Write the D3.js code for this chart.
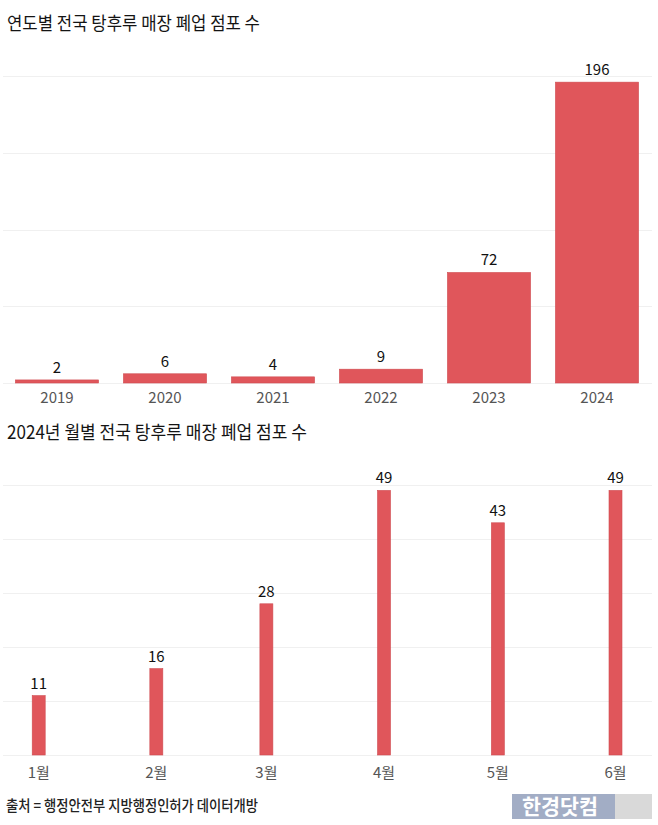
<!DOCTYPE html>
<html>
<head>
<meta charset="utf-8">
<script src="https://cdn.jsdelivr.net/npm/d3@7"></script>
<style>
  body { margin: 0; background: #fff; }
  text { font-family: "Noto Sans CJK KR", "Noto Sans", sans-serif; }
</style>
</head>
<body>
<svg id="chart" width="658" height="825"></svg>
<script>
// yearly closures
const years = ["2019", "2020", "2021", "2022", "2023", "2024"];
const yearCounts = [2, 6, 4, 9, 72, 196];
const yearTicks = [0, 50, 100, 150, 200];

// monthly closures, 2024
const months = ["1월", "2월", "3월", "4월", "5월", "6월"];
const monthDates = ["2024-01-01", "2024-02-01", "2024-03-01", "2024-04-01", "2024-05-01", "2024-06-01"];
const monthCounts = [11, 16, 28, 49, 43, 49];
const monthTicks = [0, 10, 20, 30, 40, 50];

const title1 = "연도별 전국 탕후루 매장 폐업 점포 수";
const title2 = "2024년 월별 전국 탕후루 매장 폐업 점포 수";
const source = "출처 = 행정안전부 지방행정인허가 데이터개방";

const barColor = "#e0565b";
const gridColor = "#f0f0f0";

const svg = d3.select("#chart");
svg.append("rect").attr("width", 658).attr("height", 825).attr("fill", "#fff");

function drawGrid(g, y, ticks) {
  g.selectAll("line.grid")
    .data(ticks)
    .enter()
      .append("line")
      .attr("class", "grid")
      .attr("x1", 3)
      .attr("x2", 652)
      .attr("y1", d => Math.round(y(d)) + 0.5)
      .attr("y2", d => Math.round(y(d)) + 0.5)
      .attr("stroke", gridColor)
      .attr("stroke-width", 1);
}

// ---- yearly chart ----
const gYear = svg.append("g");

gYear.append("text")
  .attr("x", 7).attr("y", 30)
  .attr("font-size", 18.5).attr("font-weight", 400)
  .attr("fill", "#141414")
  .attr("textLength", 253).attr("lengthAdjust", "spacingAndGlyphs")
  .text(title1);

const x1 = d3.scaleBand()
  .domain(years)
  .range([3, 651])
  .paddingInner(0.23)
  .paddingOuter(0.115);

const y1 = d3.scaleLinear()
  .domain([0, 200])
  .range([383, 76]);

drawGrid(gYear, y1, yearTicks);

gYear.selectAll("rect.bar")
  .data(years)
  .enter()
    .append("rect")
    .attr("class", "bar")
    .attr("x", d => x1(d))
    .attr("width", x1.bandwidth())
    .attr("y", (d, i) => y1(yearCounts[i]))
    .attr("height", (d, i) => y1(0) - y1(yearCounts[i]))
    .attr("fill", barColor)
    .attr("stroke", "#cf4c51")
    .attr("stroke-width", 0.6);

gYear.selectAll("text.val")
  .data(years)
  .enter()
    .append("text")
    .attr("class", "val")
    .attr("x", d => x1(d) + x1.bandwidth() / 2)
    .attr("y", (d, i) => y1(yearCounts[i]) - 7)
    .attr("text-anchor", "middle")
    .attr("font-size", 15)
    .attr("fill", "#111")
    .text((d, i) => yearCounts[i]);

gYear.selectAll("text.cat")
  .data(years)
  .enter()
    .append("text")
    .attr("class", "cat")
    .attr("x", d => x1(d) + x1.bandwidth() / 2)
    .attr("y", 403)
    .attr("text-anchor", "middle")
    .attr("font-size", 15)
    .attr("fill", "#555")
    .text(d => d);

// ---- monthly chart ----
const gMonth = svg.append("g");

gMonth.append("text")
  .attr("x", 7).attr("y", 439)
  .attr("font-size", 18.5).attr("font-weight", 400)
  .attr("fill", "#141414")
  .attr("textLength", 300).attr("lengthAdjust", "spacingAndGlyphs")
  .text(title2);

const parse = d3.timeParse("%Y-%m-%d");
const dates = monthDates.map(parse);

const x2 = d3.scaleTime()
  .domain([dates[0], dates[dates.length - 1]])
  .range([38.7, 615.5]);

const y2 = d3.scaleLinear()
  .domain([0, 50])
  .range([755, 485]);

const barW = 13;

drawGrid(gMonth, y2, monthTicks);

gMonth.selectAll("rect.bar")
  .data(dates)
  .enter()
    .append("rect")
    .attr("class", "bar")
    .attr("x", d => x2(d) - barW / 2)
    .attr("width", barW)
    .attr("y", (d, i) => y2(monthCounts[i]))
    .attr("height", (d, i) => y2(0) - y2(monthCounts[i]))
    .attr("fill", barColor)
    .attr("stroke", "#cf4c51")
    .attr("stroke-width", 0.6);

gMonth.selectAll("text.val")
  .data(dates)
  .enter()
    .append("text")
    .attr("class", "val")
    .attr("x", d => x2(d))
    .attr("y", (d, i) => y2(monthCounts[i]) - 7)
    .attr("text-anchor", "middle")
    .attr("font-size", 15)
    .attr("fill", "#111")
    .text((d, i) => monthCounts[i]);

gMonth.selectAll("text.cat")
  .data(dates)
  .enter()
    .append("text")
    .attr("class", "cat")
    .attr("x", d => x2(d))
    .attr("y", 778)
    .attr("text-anchor", "middle")
    .attr("font-size", 15)
    .attr("fill", "#555")
    .text((d, i) => months[i]);

// ---- footer ----
svg.append("text")
  .attr("x", 6).attr("y", 811)
  .attr("font-size", 15).attr("font-weight", 500)
  .attr("fill", "#222")
  .attr("textLength", 252).attr("lengthAdjust", "spacingAndGlyphs")
  .text(source);

const logo = svg.append("g");
logo.append("rect")
  .attr("x", 512).attr("y", 794).attr("width", 140).attr("height", 25)
  .attr("fill", "#d9d9d9");
logo.append("rect")
  .attr("x", 512).attr("y", 794).attr("width", 103).attr("height", 25)
  .attr("fill", "#a2adc5");
logo.append("text")
  .attr("x", 522).attr("y", 814)
  .attr("font-size", 21).attr("font-weight", 700)
  .attr("fill", "#fff")
  .attr("textLength", 76).attr("lengthAdjust", "spacingAndGlyphs")
  .text("한경닷컴");
</script>
</body>
</html>
